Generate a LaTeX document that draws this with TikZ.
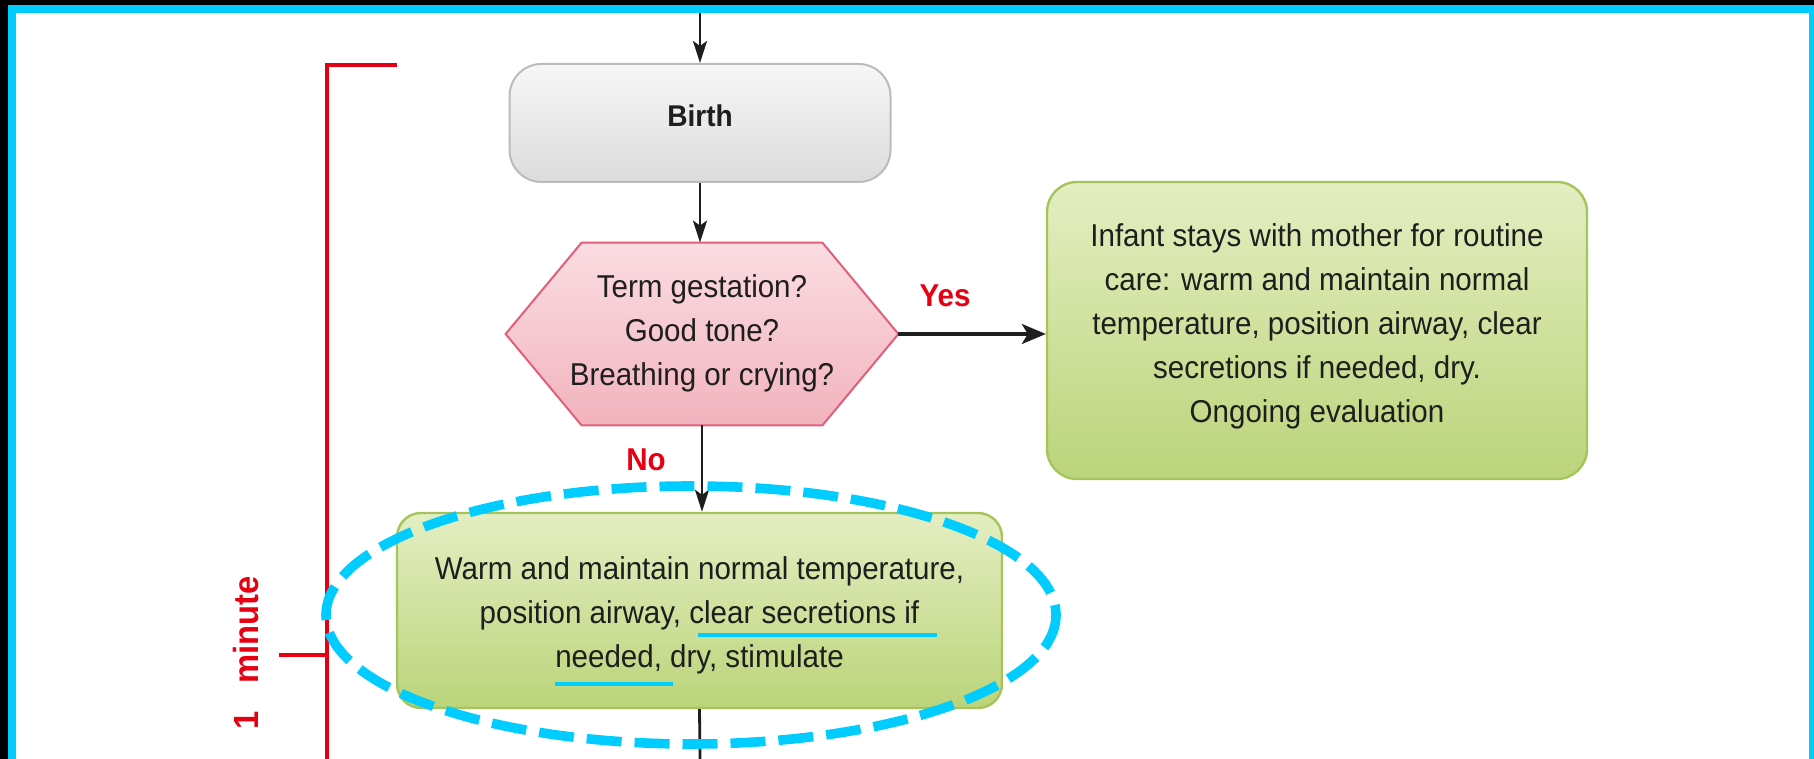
\documentclass[tikz,border=0pt]{standalone}
\usepackage{fontspec}
\setmainfont{Liberation Sans}
\newfontfamily\narrowsans[FakeStretch=0.935]{Liberation Sans}
\usetikzlibrary{arrows.meta,calc}

\definecolor{framecyan}{HTML}{00CCFF}
\definecolor{markred}{HTML}{E60012}
\definecolor{inkgray}{HTML}{1E1E1E}
\definecolor{birthtop}{HTML}{F7F7F7}
\definecolor{birthbot}{HTML}{DCDCDC}
\definecolor{birthline}{HTML}{BBBBBB}
\definecolor{hextop}{HTML}{FBDDE2}
\definecolor{hexbot}{HTML}{F2B3BE}
\definecolor{hexline}{HTML}{E0607A}
\definecolor{greentop}{HTML}{E4EEC2}
\definecolor{greenbot}{HTML}{BBD47A}
\definecolor{greenline}{HTML}{A6C45C}

\tikzset{
  boxtext/.style={font=\narrowsans\fontsize{15.8}{22}\selectfont, text=inkgray, align=center, inner sep=0pt},
  birthbox/.style={draw=birthline, line width=1pt, rounded corners=16pt,
    top color=birthtop, bottom color=birthbot, inner sep=0pt},
  birthtext/.style={font=\narrowsans\fontsize{15}{17}\selectfont\bfseries, text=inkgray, inner sep=0pt},
  hexframe/.style={draw=hexline, line width=1pt, top color=hextop, bottom color=hexbot},
  greenbox/.style={draw=greenline, line width=1.2pt, top color=greentop, bottom color=greenbot},
  flowline/.style={draw=inkgray, line width=1.4pt},
  flowarrow/.style={flowline, -{Stealth[length=11pt,width=7pt,inset=2.5pt]}},
  sidearrow/.style={flowline, line width=1.6pt, -{Stealth[length=12pt,width=10pt,inset=3pt]}},
  redlabel/.style={text=markred, font=\narrowsans\fontsize{15.8}{18}\selectfont\bfseries, inner sep=0pt},
  redrule/.style={draw=markred, line width=1.8pt},
  highlight/.style={draw=framecyan, line width=4.8pt, dash pattern=on 17.5pt off 6.5pt},
  underrule/.style={draw=framecyan, line width=2pt}
}

\begin{document}
\begin{tikzpicture}[x=0.5pt,y=-0.5pt]
\useasboundingbox (0,0) rectangle (1814,759);

% outer frame
\fill[black] (0,0) rectangle (1814,5);
\fill[black] (0,0) rectangle (8,759);
\fill[framecyan] (8,5) rectangle (1814,13);
\fill[framecyan] (8,5) rectangle (16,759);
\fill[framecyan] (1809,5) rectangle (1814,759);

% time bracket
\draw[redrule] (397,65) -- (327,65) -- (327,759);
\draw[redrule] (279,655) -- (327,655);
\node[redlabel, font=\narrowsans\fontsize{17.5}{20}\selectfont\bfseries, rotate=90]
  (oneminute) at (246,653) {1\hspace{0.8em}minute};

% birth
\node[birthbox, minimum width=190.5pt, minimum height=59pt] (birth) at (700,123) {};
\node[birthtext] (birthlabel) at (700,116) {Birth};

% decision hexagon
\node[minimum width=196pt, minimum height=91pt, inner sep=0pt] (hex) at (702,334) {};
\path[hexframe] (hex.west) -- ([xshift=38pt]hex.north west) -- ([xshift=-38pt]hex.north east)
  -- (hex.east) -- ([xshift=-38pt]hex.south east) -- ([xshift=38pt]hex.south west) -- cycle;
\node[boxtext] (hextext) at (702,333) {Term gestation?\\Good tone?\\Breathing or crying?};

% routine care
\node[greenbox, rounded corners=15pt, minimum width=270pt, minimum height=148.5pt]
  (care) at (1317,330.5) {};
\node[boxtext] (caretext) at (1317,326.5) {Infant stays with mother for routine\\care: warm and maintain normal\\temperature, position airway, clear\\secretions if needed, dry.\\Ongoing evaluation};

% initial steps
\node[greenbox, rounded corners=12pt, minimum width=302.5pt, minimum height=97.5pt]
  (warm) at (699.5,610.5) {};
\node[boxtext] (warmtext) at (699.5,615.5) {Warm and maintain normal temperature,\\position airway, clear secretions if\\needed, dry, stimulate};

% connectors
\coordinate (entry) at (700,13);
\coordinate (exit) at (700,759);
\draw[flowarrow] (entry) -- (birth.north);
\draw[flowarrow] (birth.south) -- (birth.south |- hex.north);
\draw[sidearrow] (hex.east) -- (hex.east -| care.west);
\draw[flowarrow] (hex.south) -- (hex.south |- warm.north);
\draw[flowline] (warm.south) -- (exit);

\node[redlabel] (yes) at (945,296) {Yes};
\node[redlabel] (no) at (646,460) {No};

% emphasis marks
\draw[highlight] (691,615) ellipse [x radius=365, y radius=129];
\draw[underrule] (698,635) -- (937,635);
\draw[underrule] (555,684) -- (673,684);
\end{tikzpicture}
\end{document}
